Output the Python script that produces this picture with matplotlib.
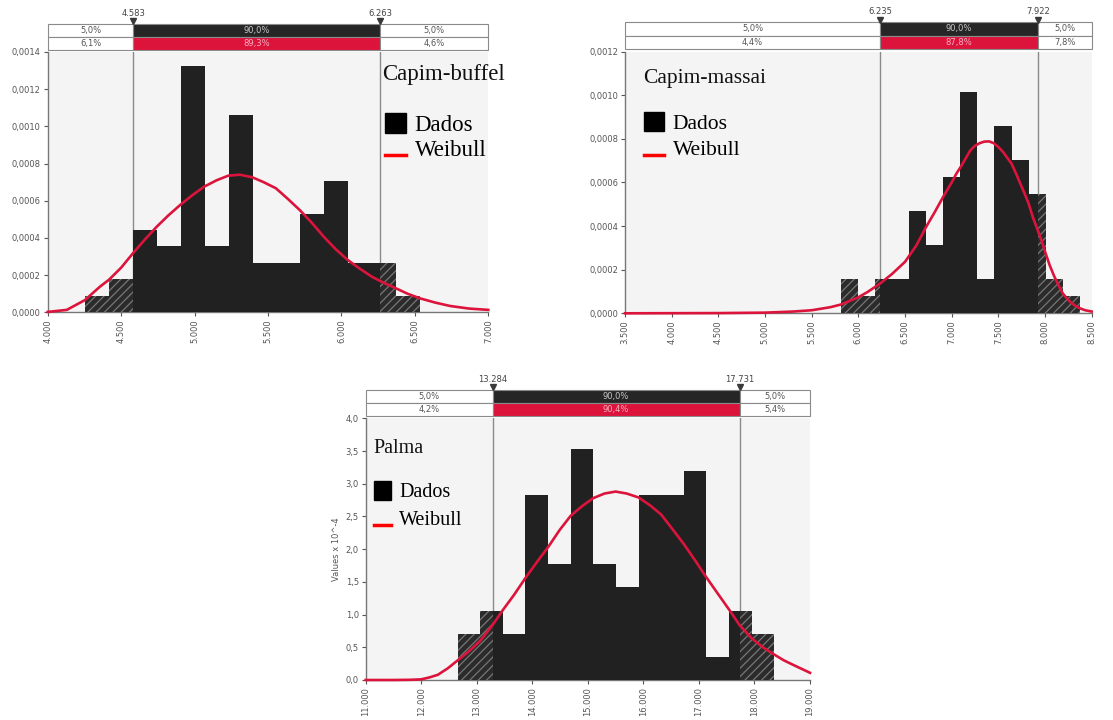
import matplotlib
matplotlib.use('Agg')
import matplotlib.pyplot as plt
from matplotlib.patches import Patch, Rectangle
from matplotlib.lines import Line2D
from matplotlib.legend_handler import HandlerLine2D

# --- Capim-buffel ---
buffel_edges = [4254, 4417, 4580, 4743, 4906, 5069, 5232, 5395, 5558, 5721, 5884, 6047, 6210, 6373, 6536]
buffel_dens = [0.000088, 0.000177, 0.000442, 0.000354, 0.001327, 0.000354, 0.001062,
               0.000265, 0.000265, 0.000531, 0.000708, 0.000265, 0.000265, 0.000088]
buffel_fit_x = [4000, 4130, 4254, 4356, 4417, 4500, 4580, 4660, 4742, 4820, 4903, 4985, 5066, 5150,
                5230, 5309, 5393, 5470, 5554, 5635, 5716, 5800, 5879, 5960, 6045, 6130, 6210, 6290,
                6371, 6450, 6535, 6640, 6740, 6870, 7000]
buffel_fit_y = [0.000002, 0.000013, 0.000066, 0.000138, 0.000175, 0.00024, 0.000317, 0.00039, 0.00046,
                0.00052, 0.000578, 0.00063, 0.000676, 0.00071, 0.000735, 0.00074, 0.000726, 0.0007,
                0.000667, 0.00061, 0.00055, 0.00048, 0.000407, 0.00034, 0.00028, 0.000232, 0.00019,
                0.000158, 0.000129, 0.0001, 0.000075, 0.000052, 0.000034, 0.00002, 0.000013]
buffel_lo, buffel_hi = 4583, 6263
buffel_theory = ['5,0%', '90,0%', '5,0%']
buffel_data = ['6,1%', '89,3%', '4,6%']
buffel_xticks = [4000, 4500, 5000, 5500, 6000, 6500, 7000]
buffel_yticks = [0, 0.0002, 0.0004, 0.0006, 0.0008, 0.0010, 0.0012, 0.0014]

# --- Capim-massai ---
massai_edges = [5811, 5994, 6177, 6360, 6543, 6726, 6909, 7092, 7275, 7458, 7641, 7824, 8007, 8190, 8373]
massai_dens = [0.000156, 0.000078, 0.000156, 0.000156, 0.000469, 0.000313, 0.000625,
               0.001016, 0.000156, 0.000859, 0.000703, 0.000547, 0.000156, 0.000078]
massai_fit_x = [3500, 4500, 5000, 5300, 5500, 5700, 5811, 5994, 6100, 6235, 6360, 6500, 6620, 6726,
                6820, 6909, 7000, 7050, 7092, 7150, 7200, 7250, 7300, 7350, 7400, 7450, 7500, 7550,
                7600, 7641, 7690, 7730, 7780, 7824, 7870, 7922, 7965, 8007, 8050, 8100, 8145, 8190,
                8235, 8280, 8330, 8373, 8430, 8500]
massai_fit_y = [0.0, 0.000001, 0.000003, 0.000008, 0.000014, 0.000028, 0.00004, 0.000072, 0.000098,
                0.000137, 0.00018, 0.000236, 0.00031, 0.000396, 0.000465, 0.000534, 0.0006, 0.00064,
                0.000668, 0.00071, 0.000747, 0.000768, 0.00078, 0.000787, 0.000788, 0.00078, 0.000762,
                0.00074, 0.00071, 0.000686, 0.00064, 0.0006, 0.00055, 0.000503, 0.00044, 0.000381,
                0.00033, 0.000274, 0.00022, 0.000168, 0.000128, 0.000091, 0.000068, 0.000048,
                0.000033, 0.000023, 0.000014, 0.000008]
massai_lo, massai_hi = 6235, 7922
massai_theory = ['5,0%', '90,0%', '5,0%']
massai_data = ['4,4%', '87,8%', '7,8%']
massai_xticks = [3500, 4000, 4500, 5000, 5500, 6000, 6500, 7000, 7500, 8000, 8500]
massai_yticks = [0, 0.0002, 0.0004, 0.0006, 0.0008, 0.0010, 0.0012]

# --- Palma (valores x 10^-4) ---
palma_edges = [12656, 13063, 13470, 13877, 14284, 14691, 15098, 15505, 15912, 16319, 16726, 17133,
               17540, 17947, 18354]
palma_dens = [0.71, 1.06, 0.71, 2.83, 1.77, 3.53, 1.77, 1.42, 2.83, 2.83, 3.19, 0.35, 1.06, 0.71]
palma_fit_x = [11000, 11500, 11800, 12000, 12150, 12300, 12480, 12656, 12860, 13063, 13284, 13470,
               13670, 13877, 14080, 14284, 14490, 14691, 14900, 15098, 15300, 15500, 15700, 15912,
               16120, 16319, 16520, 16726, 16930, 17133, 17340, 17540, 17731, 17947, 18150, 18354,
               18530, 18700, 18850, 19000]
palma_fit_y = [0.0, 0.0, 0.003, 0.01, 0.04, 0.08, 0.18, 0.30, 0.44, 0.60, 0.84, 1.07, 1.30, 1.56,
               1.80, 2.03, 2.29, 2.51, 2.66, 2.78, 2.85, 2.88, 2.85, 2.79, 2.67, 2.53, 2.31, 2.08,
               1.83, 1.57, 1.32, 1.08, 0.84, 0.64, 0.50, 0.39, 0.30, 0.23, 0.17, 0.11]
palma_lo, palma_hi = 13284, 17731
palma_theory = ['5,0%', '90,0%', '5,0%']
palma_data = ['4,2%', '90,4%', '5,4%']
palma_xticks = [11000, 12000, 13000, 14000, 15000, 16000, 17000, 18000, 19000]
palma_yticks = [0, 0.5, 1.0, 1.5, 2.0, 2.5, 3.0, 3.5, 4.0]

BG = '#f4f4f4'
DARK = '#212121'
RED = '#dc143c'
GRAY = '#8a8a8a'
TXT = '#555555'
SERIF = ['Liberation Serif', 'DejaVu Serif']

W, H = 1113, 720
fig = plt.figure(figsize=(W / 100, H / 100), dpi=100)
plt.rcParams['hatch.linewidth'] = 0.9


def px_rect(l, t, r, b):
    return [l / W, 1 - b / H, (r - l) / W, (b - t) / H]


def thousand(v):
    return f'{v:,.0f}'.replace(',', '.')


class LowLine(HandlerLine2D):
    def create_artists(self, legend, orig_handle, xdescent, ydescent, width, height, fontsize, trans):
        arts = super().create_artists(legend, orig_handle, xdescent, ydescent, width, height, fontsize, trans)
        for a in arts:
            a.set_ydata([y - height * 0.42 for y in a.get_ydata()])
        return arts


def draw_panel(box, head, xticks, yticks, ydec, edges, dens, fx, fy, lo, hi, theory, data,
               title, title_xy, leg_xy, fs, hl, hh, ls, ylabel=None):
    l, t, r, b = box
    ax = fig.add_axes(px_rect(l, t, r, b))
    ax.set_facecolor(BG)
    xlim = (xticks[0], xticks[-1])

    widths = [e1 - e0 for e0, e1 in zip(edges[:-1], edges[1:])]
    ax.bar(edges[:-1], dens, width=widths, align='edge', color=DARK, lw=0, zorder=3)
    # parte fora do intervalo de 90% -> hachurada
    for e0, e1, d in zip(edges[:-1], edges[1:], dens):
        if e0 < lo:
            ax.bar(e0, d, width=min(e1, lo) - e0, align='edge', facecolor='#2b2b2b',
                   edgecolor='#777777', hatch='////', lw=0, zorder=3.5)
        if e1 > hi:
            s = max(e0, hi)
            ax.bar(s, d, width=e1 - s, align='edge', facecolor='#2b2b2b',
                   edgecolor='#777777', hatch='////', lw=0, zorder=3.5)

    ax.axvline(lo, color=GRAY, lw=1, zorder=2)
    ax.axvline(hi, color=GRAY, lw=1, zorder=2)
    ax.plot(fx, fy, color=RED, lw=1.9, zorder=5, clip_on=False, solid_joinstyle='round')

    ax.set_xlim(xlim)
    ax.set_ylim(yticks[0], yticks[-1])
    ax.set_xticks(xticks)
    ax.set_xticklabels([thousand(v) for v in xticks], rotation=90)
    ax.set_yticks(yticks)
    ax.set_yticklabels([f'{v:.{ydec}f}'.replace('.', ',') for v in yticks])
    ax.tick_params(labelsize=6, colors=TXT, length=3, width=0.8, pad=2)
    for s in ('top', 'right'):
        ax.spines[s].set_visible(False)
    for s in ('left', 'bottom'):
        ax.spines[s].set_color('#777777')
        ax.spines[s].set_linewidth(1)
    if ylabel:
        ax.set_ylabel(ylabel, fontsize=6, color=TXT, labelpad=3)

    ax.text(title_xy[0], title_xy[1], title, transform=ax.transAxes, family=SERIF,
            fontsize=fs, va='baseline', ha='left', color='#111111', zorder=6)
    handles = [Patch(facecolor='black', edgecolor='black'), Line2D([], [], color='red', lw=2.5)]
    ax.legend(handles, ['Dados', 'Weibull'], loc='upper left',
              bbox_to_anchor=(leg_xy[0] / W, 1 - leg_xy[1] / H), bbox_transform=fig.transFigure,
              frameon=False, prop={'family': SERIF, 'size': fs}, handlelength=hl, handleheight=hh,
              handletextpad=0.4, labelspacing=ls, borderpad=0, borderaxespad=0,
              handler_map={Line2D: LowLine()})

    # cabeçalho com as probabilidades
    ht, hb = head
    hx = fig.add_axes(px_rect(l, ht, r, hb))
    hx.set_xlim(xlim)
    hx.set_ylim(0, 2)
    hx.axis('off')
    spans = [(xlim[0], lo), (lo, hi), (hi, xlim[1])]
    for (a, c), lab_t, lab_d, k in zip(spans, theory, data, range(3)):
        fc_t = '#262626' if k == 1 else 'white'
        fc_d = RED if k == 1 else 'white'
        tc_t = '#c8c8c8' if k == 1 else TXT
        tc_d = '#f7b0c0' if k == 1 else TXT
        hx.add_patch(Rectangle((a, 1), c - a, 1, facecolor=fc_t, edgecolor=GRAY, lw=0.8, clip_on=False))
        hx.add_patch(Rectangle((a, 0), c - a, 1, facecolor=fc_d, edgecolor=GRAY, lw=0.8, clip_on=False))
        hx.text((a + c) / 2, 1.5, lab_t, ha='center', va='center', fontsize=6, color=tc_t)
        hx.text((a + c) / 2, 0.5, lab_d, ha='center', va='center', fontsize=6, color=tc_d)
    hx.plot([lo, hi], [2.2, 2.2], ls='none', marker='v', ms=5, color='#3a3a3a', clip_on=False)
    for v in (lo, hi):
        hx.annotate(thousand(v), (v, 2), xytext=(0, 4.5), textcoords='offset points',
                    ha='center', va='bottom', fontsize=6, color='#444444')
    return ax


draw_panel((47.7, 52, 488.3, 312.3), (24, 50), buffel_xticks, buffel_yticks, 4,
           buffel_edges, buffel_dens, buffel_fit_x, buffel_fit_y, buffel_lo, buffel_hi,
           buffel_theory, buffel_data, 'Capim-buffel', (0.760, 0.892), (385, 113), 16.5, 0.9, 0.95, 0.09)

draw_panel((625, 51.5, 1091.7, 313.3), (22.3, 49), massai_xticks, massai_yticks, 4,
           massai_edges, massai_dens, massai_fit_x, massai_fit_y, massai_lo, massai_hi,
           massai_theory, massai_data, 'Capim-massai', (0.038, 0.8785), (644, 112), 15.5, 0.93, 1.0, 0.19)

draw_panel((365.7, 418.3, 810, 680), (390, 416), palma_xticks, palma_yticks, 1,
           palma_edges, palma_dens, palma_fit_x, palma_fit_y, palma_lo, palma_hi,
           palma_theory, palma_data, 'Palma', (0.017, 0.868), (374, 481), 14.5, 0.85, 1.05, 0.35,
           ylabel='Values x 10^-4')

fig.savefig('out.png', dpi=100)
